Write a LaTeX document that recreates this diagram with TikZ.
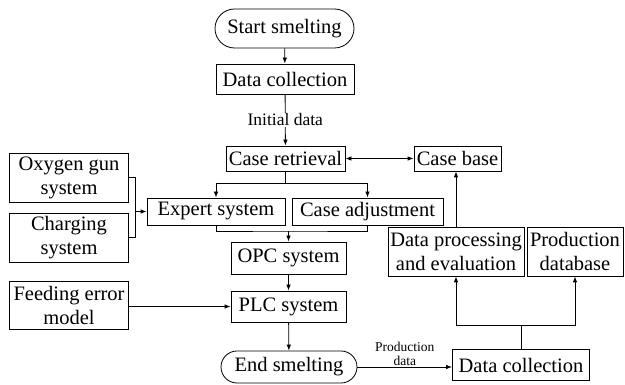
\documentclass[tikz,border=0pt]{standalone}
\usepackage{fontspec}
\setmainfont{Liberation Serif}
\newfontfamily\labelfont{Liberation Serif}
\usetikzlibrary{shapes.misc, arrows.meta}

\tikzset{
  box/.style={draw, line width=0.8pt, inner sep=0pt, align=center, font=\labelfont\fontsize{20.5}{24}\selectfont},
  term/.style={box, rounded rectangle},
  flow/.style={line width=0.8pt, -{Latex[length=6pt, width=4.5pt]}},
  twoway/.style={line width=0.8pt, {Latex[length=6pt, width=4.5pt]}-{Latex[length=6pt, width=4.5pt]}},
  link/.style={line width=0.8pt},
  note/.style={inner sep=1pt, fill=white, align=center}
}

\begin{document}
\begin{tikzpicture}[x=1pt, y=-1pt]
  \useasboundingbox (0,0) rectangle (625,385);
  % main column
  \node[term, minimum width=139pt, minimum height=39pt] (start) at (284.5,28.5) {Start smelting};
  \node[box, minimum width=138pt, minimum height=30pt] (collect) at (285,79) {Data collection};
  \node[box, minimum width=119pt, minimum height=25pt] (retrieve) at (285.5,158.5) {Case retrieval};
  \node[box, minimum width=87pt, minimum height=25pt] (casebase) at (457.5,158.5) {Case base};
  \node[box, minimum width=138pt, minimum height=27pt] (expert) at (216,211.5) {Expert system};
  \node[box, minimum width=151pt, minimum height=27pt] (adjust) at (367.5,211.5) {Case adjustment};
  \node[box, minimum width=115pt, minimum height=32pt] (opc) at (288.5,258) {OPC system};
  \node[box, minimum width=115pt, minimum height=31pt] (plc) at (288.5,306.5) {PLC system};
  \node[term, minimum width=136pt, minimum height=32pt] (finish) at (289,367) {End smelting};
  % left inputs
  \node[box, minimum width=119pt, minimum height=49pt] (oxygen) at (69,177.5) {Oxygen gun\\system};
  \node[box, minimum width=119pt, minimum height=49pt] (charging) at (69,237.5) {Charging\\system};
  \node[box, minimum width=119pt, minimum height=48pt] (feeding) at (69,305) {Feeding error\\model};
  % right branch
  \node[box, minimum width=137pt, minimum height=31pt] (collect2) at (521,365) {Data collection};
  \node[box, minimum width=136pt, minimum height=49pt] (process) at (456,251.5) {Data processing\\and evaluation};
  \node[box, minimum width=96pt, minimum height=49pt] (proddb) at (575,251.5) {Production\\database};

  \draw[flow] (start) -- (collect);
  \draw[flow] (collect) -- node[note, font=\labelfont\fontsize{17.5}{20}\selectfont] {Initial data} (retrieve);
  \draw[twoway] (retrieve) -- (casebase);
  \draw[link] (retrieve.south) -- ++(0,12) coordinate (split);
  \draw[flow] (split) -| (expert.north);
  \draw[flow] (split) -| (adjust.north);
  \coordinate (join) at (288.5,231);
  \draw[link] (expert.south) |- (join) -| (adjust.south);
  \draw[flow] (join) -- (opc);
  \draw[link] (oxygen.east) -- ++(6,0) |- (charging.east);
  \coordinate (gather) at (135,211.5);
  \draw[flow] (gather) -- (expert.west);
  \draw[flow] (opc) -- (plc);
  \draw[flow] (feeding.east |- plc.west) -- (plc.west);
  \draw[flow] (plc) -- (finish);
  \draw[flow] (finish.east) -- node[above=1pt, inner sep=0pt, align=center, font=\labelfont\fontsize{13.5}{14}\selectfont] {Production\\data} (finish.east -| collect2.west);
  \draw[link] (collect2.north) -- ++(0,-24) coordinate (fork);
  \draw[flow] (fork) -| (process.south);
  \draw[flow] (fork) -| (proddb.south);
  \draw[flow] (process.north) -- (process.north |- casebase.south);
\end{tikzpicture}
\end{document}
